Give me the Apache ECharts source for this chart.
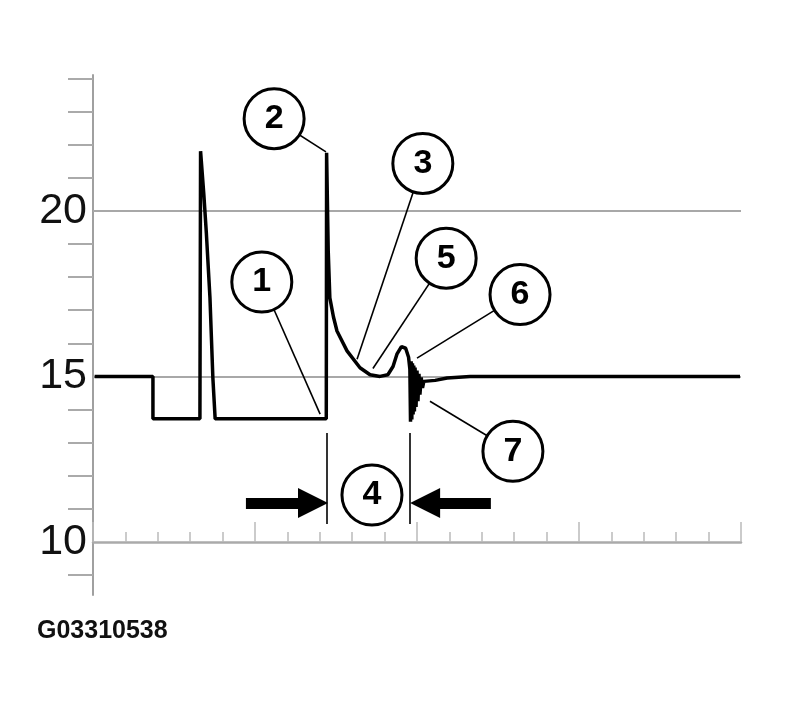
<!DOCTYPE html>
<html>
<head>
<meta charset="utf-8">
<script src="https://cdn.jsdelivr.net/npm/echarts@6/dist/echarts.min.js"></script>
<style>
  html, body { margin: 0; padding: 0; background: #fff; }
  #chart { width: 785px; height: 715px; }
</style>
</head>
<body>
<div id="chart"></div>
<script>
// waveform trace [time, value]
var trace = [
  [0.05, 15], [1.85, 15], [1.85, 13.72], [3.30, 13.72], [3.32, 21.8],
  [3.42, 20.5], [3.50, 19.3], [3.61, 17.37], [3.70, 14.95], [3.77, 13.72],
  [7.20, 13.72], [7.21, 21.75], [7.26, 18.79], [7.31, 17.37], [7.42, 16.8],
  [7.53, 16.37], [7.84, 15.77], [8.24, 15.26], [8.55, 15.05], [8.86, 15.0],
  [9.10, 15.05], [9.26, 15.3], [9.38, 15.67], [9.52, 15.9], [9.65, 15.85],
  [9.74, 15.58], [9.78, 15.22], [9.80, 13.63],
  [9.82, 15.46], [9.84, 13.7], [9.86, 15.4], [9.88, 13.85], [9.90, 15.33],
  [9.92, 13.94], [9.94, 15.27], [9.97, 14.08], [10.0, 15.18], [10.03, 14.25],
  [10.06, 15.08], [10.09, 14.45], [10.13, 14.97], [10.17, 14.65], [10.21, 14.85],
  [10.56, 14.88], [10.93, 14.95], [11.64, 15.0], [19.97, 15.0]
];

// numbered callouts: circle position and the point its leader touches
var calloutLabels = ['1', '2', '3', '4', '5', '6', '7'];
var calloutPos = [
  [5.21, 17.85], [5.59, 22.78], [10.18, 21.43], [8.61, 11.42],
  [10.90, 18.57], [13.18, 17.47], [12.96, 12.74]
];
var calloutTarget = [
  [7.01, 13.86], [7.19, 21.78], [8.15, 15.52], null,
  [8.64, 15.24], [10.0, 15.55], [10.40, 14.25]
];

// interval "4": boundary markers and arrows
var intervalEdges = [7.22, 9.78];
var intervalSpan = [10.54, 13.29];
var arrowY = 11.18;
var arrowLeft = [4.72, 6.79];
var arrowRight = [12.28, 10.25];

var yLabels = [10, 15, 20];
var yMinor = [9, 11, 12, 13, 14, 16, 17, 18, 19, 21, 22, 23, 24];
var gridValues = [15, 20];

var yMin = 8.4, yMax = 24.1, xCross = 10;
var gridTop = 75, gridBottom = 120;
var gridH = 715 - gridTop - gridBottom;

var chart = echarts.init(document.getElementById('chart'));

var leaderData = [];
calloutTarget.forEach(function (t, i) {
  if (t) leaderData.push({ coords: [t, calloutPos[i]] });
});
var edgeData = intervalEdges.map(function (x) {
  return { coords: [[x, intervalSpan[1]], [x, intervalSpan[0]]] };
});
var arrowData = [
  { coords: [[arrowLeft[0], arrowY], [arrowLeft[1], arrowY]] },
  { coords: [[arrowRight[0], arrowY], [arrowRight[1], arrowY]] }
];
var circleData = calloutLabels.map(function (l, i) {
  return { name: l, value: calloutPos[i] };
});

var option = {
  backgroundColor: '#fff',
  animation: false,
  title: {
    text: 'G03310538',
    left: 37,
    top: 619,
    padding: 0,
    textStyle: { fontFamily: 'Liberation Sans', fontSize: 25, fontWeight: 'bold', color: '#111' }
  },
  grid: { left: 93, right: 44, top: gridTop, bottom: gridBottom },
  xAxis: {
    type: 'value',
    min: 0,
    max: 20,
    interval: 5,
    offset: -gridH * (xCross - yMin) / (yMax - yMin),
    axisLine: { lineStyle: { color: '#aaa', width: 2.5 } },
    axisTick: { inside: true, length: 20, lineStyle: { color: '#bbb', width: 1.5 } },
    minorTick: { show: true, splitNumber: 5, length: 10, lineStyle: { color: '#bbb', width: 1.5 } },
    axisLabel: { show: false },
    splitLine: { show: false }
  },
  yAxis: {
    type: 'value',
    min: yMin,
    max: yMax,
    axisLine: { show: true, lineStyle: { color: '#a0a0a0', width: 2 } },
    axisTick: { show: true, customValues: yMinor, length: 25, lineStyle: { color: '#aaa', width: 2 } },
    axisLabel: {
      customValues: yLabels,
      margin: 6,
      fontFamily: 'Liberation Sans',
      fontSize: 43,
      color: '#111'
    },
    splitLine: { show: false }
  },
  series: [
    {
      type: 'line',
      data: trace,
      showSymbol: false,
      z: 3,
      lineStyle: { color: '#000', width: 3.5 },
      markLine: {
        z: 1,
        silent: true,
        symbol: 'none',
        label: { show: false },
        lineStyle: { color: '#a8a8a8', width: 2, type: 'solid' },
        data: gridValues.map(function (v) { return { yAxis: v }; })
      }
    },
    {
      type: 'lines',
      coordinateSystem: 'cartesian2d',
      z: 2,
      lineStyle: { color: '#000', width: 1.6, opacity: 1 },
      data: leaderData.concat(edgeData)
    },
    {
      type: 'lines',
      coordinateSystem: 'cartesian2d',
      z: 4,
      symbol: ['none', 'triangle'],
      symbolSize: [32, 30],
      lineStyle: { color: '#000', width: 11, opacity: 1 },
      data: arrowData
    },
    {
      type: 'scatter',
      z: 5,
      data: circleData,
      symbol: 'circle',
      symbolSize: 60,
      itemStyle: { color: '#fff', borderColor: '#000', borderWidth: 3, opacity: 1 },
      label: {
        show: true,
        position: 'inside',
        formatter: '{b}',
        fontFamily: 'Liberation Sans',
        fontWeight: 'bold',
        fontSize: 34,
        color: '#000'
      }
    }
  ]
};

chart.setOption(option);
</script>
</body>
</html>
